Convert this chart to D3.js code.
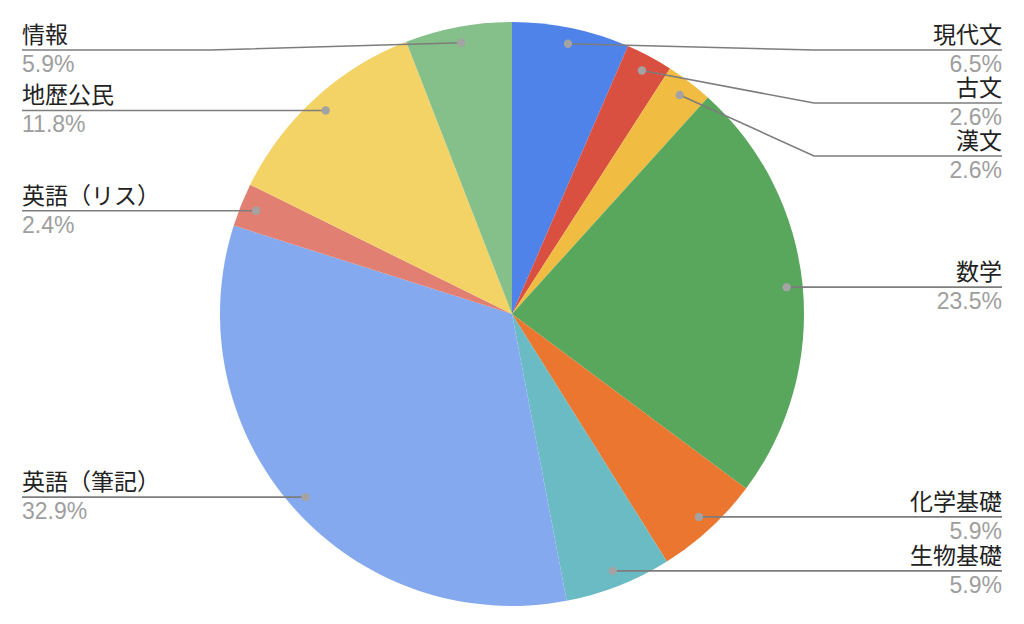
<!DOCTYPE html>
<html><head><meta charset="utf-8">
<script src="https://cdn.jsdelivr.net/npm/d3@7"></script>
<style>body{margin:0;background:#fff}svg{display:block}</style>
</head><body>
<svg id="chart" width="1024" height="624"></svg>
<script>
const categories = ["現代文","古文","漢文","数学","化学基礎","生物基礎","英語（筆記）","英語（リス）","地歴公民","情報"];
const values = [6.5,2.6,2.6,23.5,5.9,5.9,32.9,2.4,11.8,5.9];
const colors = ["#5083ea","#d95040","#f0bd42","#58a75c","#ea7630","#6abbc3","#85a9ee","#e07f72","#f3d266","#85c08b"];

const W = 1024, H = 624;
const cx = 512, cy = 314, R = 292;
const svg = d3.select("#chart");
const g = svg.append("g").attr("transform", `translate(${cx},${cy})`);

const data = categories.map((c,i)=>({name:c, value:values[i], color:colors[i]}));
const pie = d3.pie().sort(null).value(d=>d.value);
const arcs = pie(data);
const arc = d3.arc().innerRadius(0).outerRadius(R);
const dotArc = d3.arc().innerRadius(R*0.945).outerRadius(R*0.945);

g.selectAll("path.slice").data(arcs).join("path")
  .attr("class","slice").attr("d",arc).attr("fill",d=>d.data.color);

// label layout
const fmt = d3.format(".1f");
const items = arcs.map(a=>{
  const [x,y] = dotArc.centroid(a);
  const mid = (a.startAngle+a.endAngle)/2;
  return {a, x:x+cx, y:y+cy, right: mid < Math.PI};
});
const spacing = 53, minY = 50;
["right","left"].forEach(side=>{
  const its = items.filter(d=> side==="right" ? d.right : !d.right).sort((p,q)=>p.y-q.y);
  let prev = -Infinity;
  its.forEach(d=>{ d.ly = Math.max(d.y, prev+spacing, minY); prev = d.ly; });
});

const lab = svg.append("g");
items.forEach(d=>{
  const bendX = d.right ? cx + R + 10 : cx - R - 10;
  const endX = d.right ? 1002 : 22;
  lab.append("path")
    .attr("d", `M${d.x},${d.y}L${bendX},${d.ly}L${endX},${d.ly}`)
    .attr("fill","none").attr("stroke","#7d7d7d").attr("stroke-width",1.6);
  lab.append("circle").attr("cx",d.x).attr("cy",d.y).attr("r",4.2).attr("fill","#a3a3a3");
  const anchor = d.right ? "end" : "start";
  lab.append("text").attr("x",endX).attr("y",d.ly-7)
    .attr("text-anchor",anchor)
    .attr("font-family","'Noto Sans CJK JP', 'Liberation Sans', sans-serif")
    .attr("font-size",23).attr("fill","#222").text(d.a.data.name);
  lab.append("text").attr("x",endX).attr("y",d.ly+22)
    .attr("text-anchor",anchor)
    .attr("font-family","'Liberation Sans', Arial, sans-serif")
    .attr("font-size",23).attr("fill","#9e9e9e").text(fmt(d.a.data.value)+"%");
});
</script>
</body></html>
